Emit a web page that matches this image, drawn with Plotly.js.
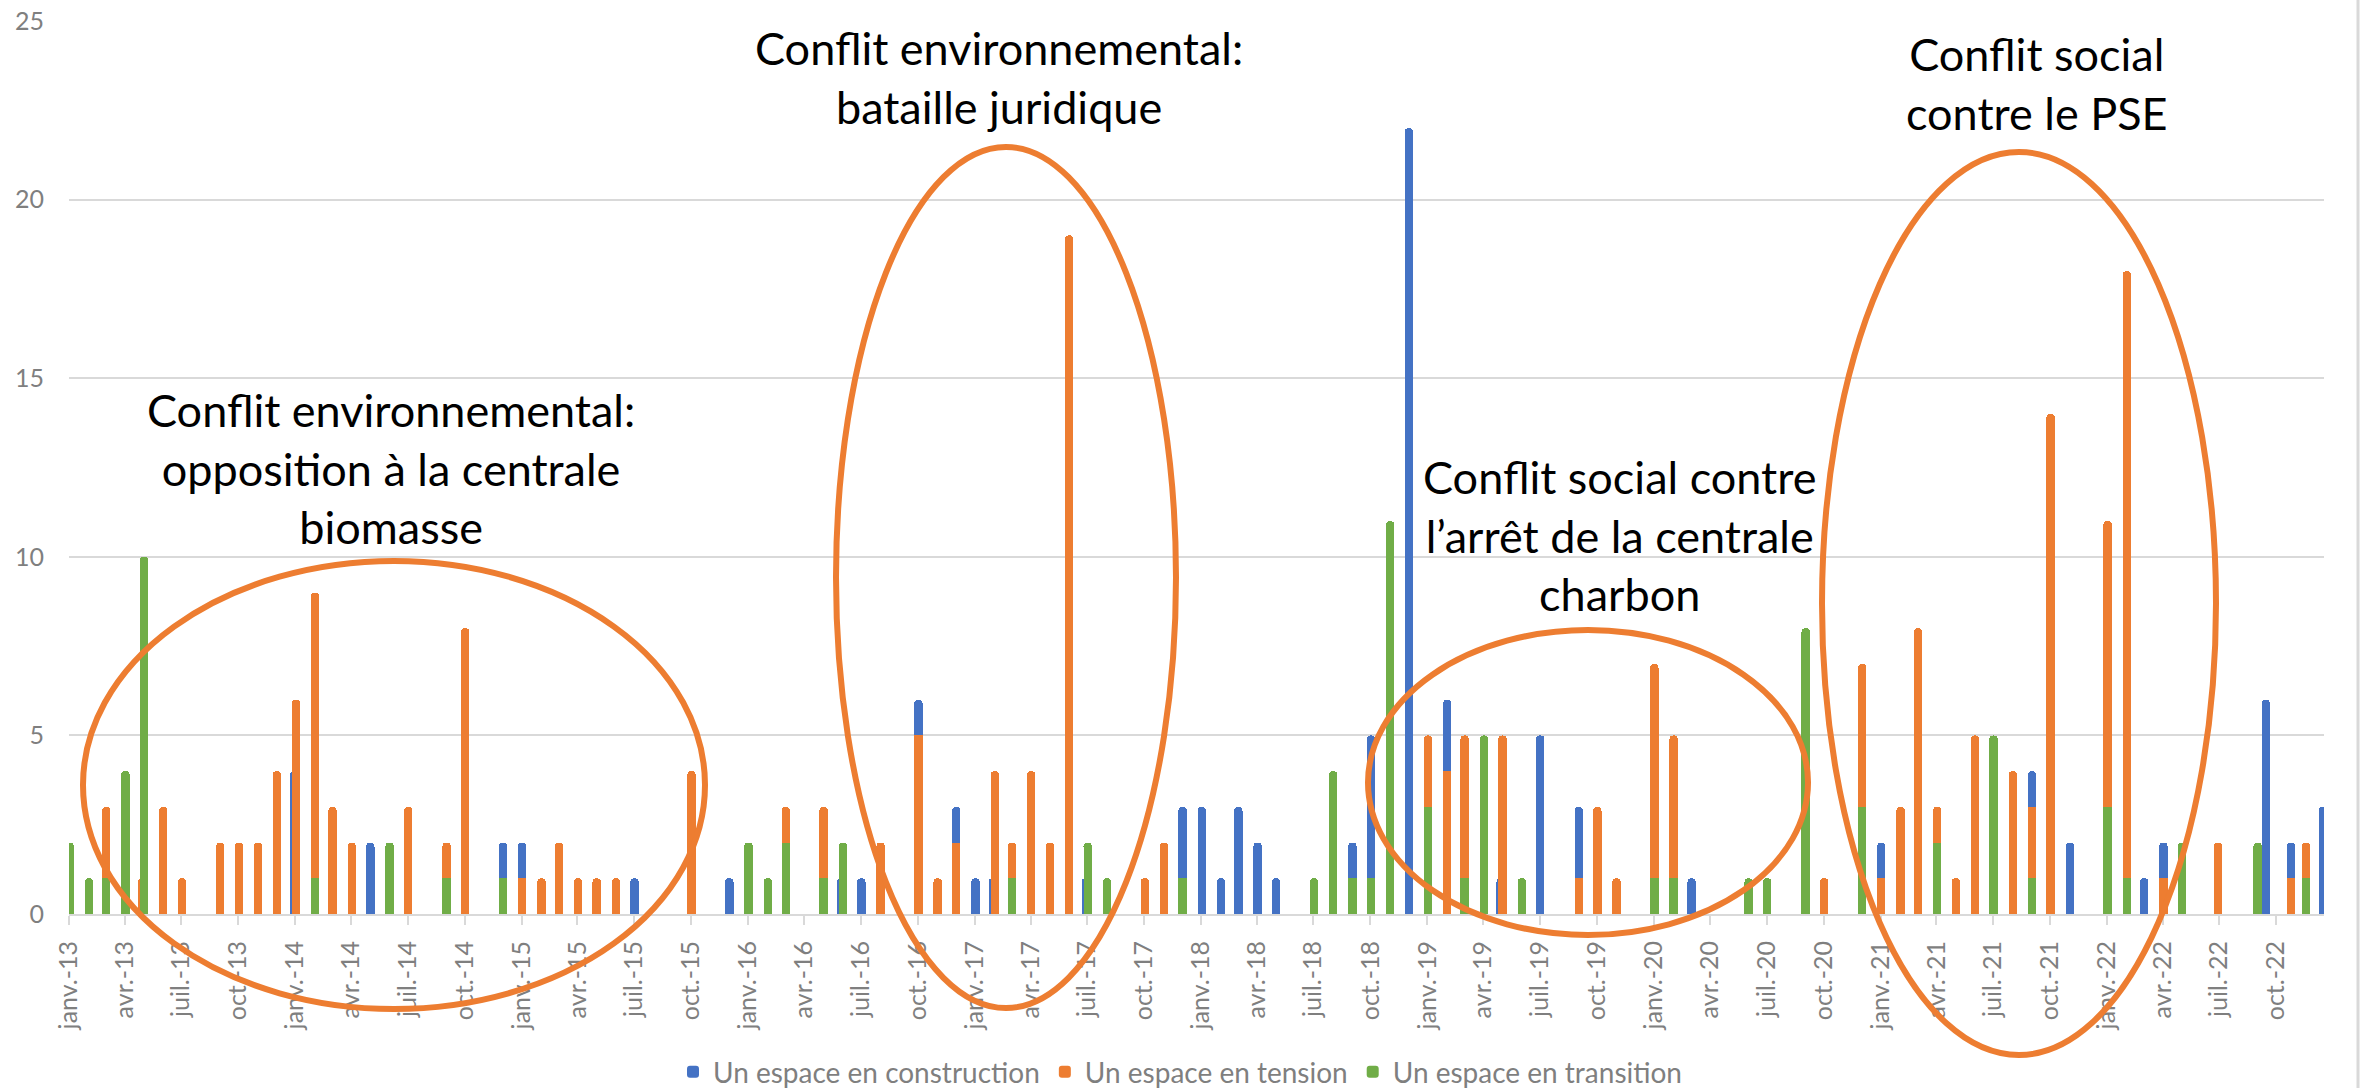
<!DOCTYPE html>
<html>
<head>
<meta charset="utf-8">
<script src="https://cdn.plot.ly/plotly-3.0.1.min.js"></script>
<style>html,body{margin:0;padding:0;background:#fff;}#chart{width:2377px;height:1088px;}</style>
</head>
<body>
<div id="chart"></div>
<script>
// ---- data ----
const dates = ['2013-01-02','2013-02-02','2013-03-02','2013-04-02','2013-05-02','2013-06-02','2013-07-02','2013-09-02','2013-10-02','2013-11-02',
 '2013-12-02','2014-01-02','2014-02-02','2014-03-02','2014-04-02','2014-05-02','2014-06-02','2014-07-02','2014-09-02','2014-10-02',
 '2014-12-02','2015-01-02','2015-02-02','2015-03-02','2015-04-02','2015-05-02','2015-06-02','2015-07-02','2015-10-02','2015-12-02',
 '2016-01-02','2016-02-02','2016-03-02','2016-05-02','2016-06-02','2016-07-02','2016-08-02','2016-10-02','2016-11-02','2016-12-02',
 '2017-01-02','2017-02-02','2017-03-02','2017-04-02','2017-05-02','2017-06-02','2017-07-02','2017-08-02','2017-10-02','2017-11-02',
 '2017-12-02','2018-01-02','2018-02-02','2018-03-02','2018-04-02','2018-05-02','2018-07-02','2018-08-02','2018-09-02','2018-10-02',
 '2018-11-02','2018-12-02','2019-01-02','2019-02-02','2019-03-02','2019-04-02','2019-05-02','2019-06-02','2019-07-02','2019-09-02',
 '2019-10-02','2019-11-02','2020-01-02','2020-02-02','2020-03-02','2020-06-02','2020-07-02','2020-09-02','2020-10-02','2020-12-02',
 '2021-01-02','2021-02-02','2021-03-02','2021-04-02','2021-05-02','2021-06-02','2021-07-02','2021-08-02','2021-09-02','2021-10-02',
 '2021-11-02','2022-01-02','2022-02-02','2022-03-02','2022-04-02','2022-05-02','2022-06-29','2022-09-01','2022-09-14','2022-10-25',
 '2022-11-18','2022-12-15'];
const construction = [0,0,0,0,0,0,0,0,0,0, 0,0,0,0,0,2,0,0,0,0, 1,1,0,0,0,0,0,1,0,1, 0,0,0,0,0,1,0,1,0,1,
 1,0,0,0,0,0,0,0,0,0, 2,3,1,3,2,1,0,0,1,4, 0,22,0,2,0,0,0,0,5,2, 0,0,0,0,1,0,0,0,0,0,
 1,0,0,0,0,0,0,0,1,0, 2,0,0,1,1,0,0,0,6,1, 0,3];
const tension = [0,0,2,0,0,3,1,2,2,2, 4,6,8,3,2,0,0,3,1,8, 0,1,1,2,1,1,1,0,4,0, 0,0,1,2,0,0,2,5,1,2,
 0,4,1,4,2,19,0,0,1,2, 0,0,0,0,0,0,0,0,0,0, 0,0,2,4,4,0,5,0,0,1, 3,1,6,4,0,0,0,0,1,4,
 1,3,8,1,1,5,0,4,2,14, 0,8,17,0,1,0,2,0,0,1, 1,0];
const transition = [2,1,1,4,10,0,0,0,0,0, 0,0,1,0,0,0,2,0,1,0, 1,0,0,0,0,0,0,0,0,0, 2,1,2,1,2,0,0,0,0,0,
 0,0,1,0,0,0,2,1,0,0, 1,0,0,0,0,0,1,4,1,1, 11,0,3,0,1,5,0,1,0,0, 0,0,1,1,0,1,1,8,0,3,
 0,0,0,2,0,0,5,0,1,0, 0,3,1,0,0,2,0,2,0,0, 1,0];

// bars that sit just before another bar and are partly hidden behind it
const backDates = ['2013-04-29','2013-12-30','2016-05-30','2017-01-30','2017-06-29','2019-04-29'];
const backConstruction = [0,4,1,1,1,1];
const backTension = [1,0,0,0,0,0];
const backTransition = [0,0,0,0,0,0];

const seriesNames = ['Un espace en construction','Un espace en tension','Un espace en transition'];
const quarterNames = ['janv.','avr.','juil.','oct.'];
const quarterMonths = ['01','04','07','10'];
const years = ['13','14','15','16','17','18','19','20','21','22'];

const tickVals = [], tickText = [];
years.forEach(y => quarterNames.forEach((q, i) => { tickVals.push('20' + y + '-' + quarterMonths[i] + '-01'); tickText.push(q + '-' + y); }));

// ---- styling ----
const C_BLUE = '#4472C4', C_ORANGE = '#ED7D31', C_GREEN = '#70AD47';
const FONT = 'Lato, "Open Sans", sans-serif';
const W = 2377, H = 1088;
const M = {l: 69, r: 53, t: 21, b: 174};
const PW = W - M.l - M.r, PH = H - M.t - M.b;
const px = x => (x - M.l) / PW;
const py = y => (H - M.b - y) / PH;
const BARW = 13.5 * 86400000;
const nz = a => a.map(v => v === 0 ? null : v);

function bar(x, y, name, color, show) {
  return {type: 'bar', x: x, y: nz(y), name: name, width: BARW, showlegend: show,
    legendgroup: name, marker: {color: color, line: {width: 0}}, hoverinfo: 'x+y+name'};
}

const traces = [
  bar(backDates, backTransition, seriesNames[2], C_GREEN, false),
  bar(backDates, backTension, seriesNames[1], C_ORANGE, false),
  bar(backDates, backConstruction, seriesNames[0], C_BLUE, false),
  bar(dates, transition, seriesNames[2], C_GREEN, true),
  bar(dates, tension, seriesNames[1], C_ORANGE, true),
  bar(dates, construction, seriesNames[0], C_BLUE, true)
];

function ellipse(x0, x1, y0, y1) {
  return {type: 'circle', xref: 'paper', yref: 'paper', x0: px(x0), x1: px(x1), y0: py(y1), y1: py(y0),
    line: {color: C_ORANGE, width: 6}, fillcolor: 'rgba(0,0,0,0)', layer: 'above'};
}
function label(text, cx, cy) {
  return {xref: 'paper', yref: 'paper', x: px(cx), y: py(cy), xanchor: 'center', yanchor: 'middle',
    text: text, showarrow: false, align: 'center', font: {family: FONT, size: 45, color: '#000000'}};
}

const layout = {
  width: W, height: H,
  margin: Object.assign({autoexpand: false}, M),
  paper_bgcolor: '#ffffff', plot_bgcolor: '#ffffff',
  barmode: 'stack',
  barcornerradius: 4,
  font: {family: FONT, color: '#7f7f7f'},
  xaxis: {
    type: 'date', range: ['2013-01-01', '2022-12-17'],
    tickmode: 'array', tickvals: tickVals, ticktext: tickText, tickangle: -90,
    tickfont: {family: FONT, size: 25, color: '#7f7f7f'},
    ticks: 'outside', ticklen: 9, tickwidth: 2, tickcolor: '#d9d9d9',
    showline: true, linecolor: '#d9d9d9', linewidth: 2,
    showgrid: false, zeroline: false, ticklabelstandoff: 6, automargin: false
  },
  yaxis: {
    range: [0, 25], dtick: 5, tick0: 0,
    tickfont: {family: FONT, size: 25, color: '#7f7f7f'},
    showgrid: true, gridcolor: '#d9d9d9', gridwidth: 2,
    zeroline: false, showline: false, ticks: '', ticklabelstandoff: 24, automargin: false
  },
  legend: {
    orientation: 'h', xref: 'paper', x: px(1180), xanchor: 'center',
    yref: 'container', y: 16 / H, yanchor: 'middle',
    traceorder: 'reversed', font: {family: FONT, size: 28, color: '#7f7f7f'},
    bgcolor: 'rgba(0,0,0,0)'
  },
  shapes: [
    ellipse(83, 705, 561, 1009),
    ellipse(836, 1176, 147, 1008),
    ellipse(1368, 1808, 630, 935),
    ellipse(1822, 2216, 152, 1055),
    {type: 'line', xref: 'paper', yref: 'paper', x0: px(2358), x1: px(2358), y0: py(0), y1: py(H),
     line: {color: '#d9d9d9', width: 3}}
  ],
  annotations: [
    label('Conflit environnemental:<br>bataille juridique', 999, 77),
    label('Conflit social<br>contre le PSE', 2037, 83),
    label('Conflit environnemental:<br>opposition à la centrale<br>biomasse', 391, 468),
    label('Conflit social contre<br>l’arrêt de la centrale<br>charbon', 1619, 536)
  ]
};

Plotly.newPlot('chart', traces, layout, {displayModeBar: false, staticPlot: true});
</script>
</body>
</html>
